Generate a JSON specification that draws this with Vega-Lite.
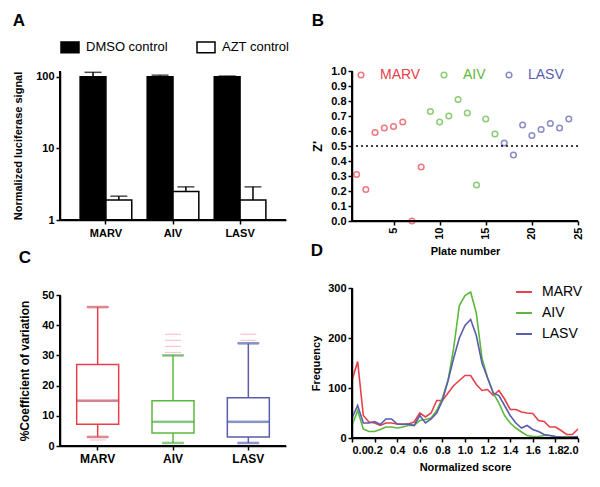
{
  "$schema": "https://vega.github.io/schema/vega-lite/v6.json",
  "background": "white",
  "padding": {"left": 12, "top": 12, "right": 10, "bottom": 5},
  "config": {
    "view": {"stroke": "transparent", "strokeWidth": 0},
    "font": "Liberation Sans",
    "axis": {
      "grid": false,
      "domain": true,
      "ticks": true,
      "zindex": 1,
      "domainColor": "#000000",
      "domainWidth": 1.5,
      "tickColor": "#000000",
      "tickWidth": 1.5,
      "tickSize": 4,
      "labelOverlap": false,
      "labelBound": false,
      "labelFont": "Liberation Sans",
      "labelFontWeight": "bold",
      "labelFontSize": 11,
      "labelColor": "black",
      "titleFont": "Liberation Sans",
      "titleFontWeight": "bold",
      "titleFontSize": 11,
      "titleColor": "black"
    },
    "legend": {"labelFont": "Liberation Sans", "labelFontSize": 13},
    "title": {"font": "Liberation Sans", "fontSize": 17, "fontWeight": "bold", "color": "black", "anchor": "start", "frame": "bounds"}
  },
  "hconcat": [
    {
      "spacing": 11,
      "resolve": {"scale": {"color": "independent", "fill": "independent", "stroke": "independent"}, "legend": {"color": "independent", "fill": "independent", "stroke": "independent"}},
      "vconcat": [
        {
          "title": {"text": "A", "offset": 7},
          "width": 226,
          "height": 149,
          "view": {"stroke": "transparent", "strokeWidth": 0},
          "layer": [
            {
              "data": {"values": [
                {"virus": "MARV", "treatment": "DMSO control", "value": 100, "upper": 115},
                {"virus": "MARV", "treatment": "AZT control", "value": 1.9, "upper": 2.15},
                {"virus": "AIV", "treatment": "DMSO control", "value": 100, "upper": 105},
                {"virus": "AIV", "treatment": "AZT control", "value": 2.5, "upper": 2.9},
                {"virus": "LASV", "treatment": "DMSO control", "value": 100, "upper": 102},
                {"virus": "LASV", "treatment": "AZT control", "value": 1.9, "upper": 2.9}
              ]},
              "encoding": {
                "x": {"field": "virus", "type": "nominal", "sort": ["MARV", "AIV", "LASV"], "scale": {"paddingInner": 0.23, "paddingOuter": 0.3}, "axis": {"title": null, "labelAngle": 0, "labelPadding": 3}},
                "xOffset": {"field": "treatment", "type": "nominal", "sort": ["DMSO control", "AZT control"], "scale": {"paddingInner": 0, "paddingOuter": 0}}
              },
              "layer": [
                {
                  "mark": {"type": "bar", "stroke": "black", "strokeWidth": 1.5},
                  "encoding": {
                    "y": {"field": "value", "type": "quantitative", "stack": null, "scale": {"type": "log", "domain": [1, 120], "nice": false}, "axis": {"values": [1, 10, 100], "format": "d", "title": "Normalized luciferase signal", "titlePadding": 12}},
                    "y2": {"datum": 1},
                    "fill": {"field": "treatment", "type": "nominal", "sort": ["DMSO control", "AZT control"], "scale": {"domain": ["DMSO control", "AZT control"], "range": ["black", "white"]},
                      "legend": {"orient": "top", "direction": "horizontal", "title": null, "offset": 15, "symbolType": "M-1,-0.6H1V0.6H-1Z", "symbolSize": 324, "symbolStrokeColor": "black", "symbolStrokeWidth": 1.5, "labelFontSize": 13, "labelColor": "black", "columnPadding": 26, "labelOffset": 6}}
                  }
                },
                {
                  "mark": {"type": "rule", "color": "black", "strokeWidth": 1.5},
                  "encoding": {"y": {"field": "value", "type": "quantitative", "axis": {"values": [1, 10, 100], "format": "d", "title": "Normalized luciferase signal", "titlePadding": 12}}, "y2": {"field": "upper"}}
                },
                {
                  "mark": {"type": "tick", "color": "black", "thickness": 1.5, "size": 17},
                  "encoding": {"y": {"field": "upper", "type": "quantitative", "axis": {"values": [1, 10, 100], "format": "d", "title": "Normalized luciferase signal", "titlePadding": 12}}}
                }
              ]
            },
            {
              "data": {"values": [{"ymin": 1, "ymax": 120}]},
              "mark": {"type": "rule", "color": "black", "strokeWidth": 2, "clip": false},
              "encoding": {"y": {"field": "ymin", "type": "quantitative", "axis": {"values": [1, 10, 100], "format": "d", "title": "Normalized luciferase signal", "titlePadding": 12}}}
            },
            {
              "data": {"values": [{"ymin": 1, "ymax": 120}]},
              "mark": {"type": "rule", "color": "black", "strokeWidth": 2, "clip": false},
              "encoding": {"x": {"value": 0}, "y": {"field": "ymin", "type": "quantitative", "axis": {"values": [1, 10, 100], "format": "d", "title": "Normalized luciferase signal", "titlePadding": 12}}, "y2": {"field": "ymax"}}
            }
          ]
        },
        {
          "title": {"text": "C", "offset": 22},
          "width": 226,
          "height": 151,
          "view": {"stroke": "transparent", "strokeWidth": 0},
          "layer": [
            {
              "data": {"values": [
                {"virus": "MARV", "min": 3, "q1": 7.2, "median": 15, "q3": 27, "max": 46},
                {"virus": "AIV", "min": 1, "q1": 4.3, "median": 8, "q3": 15, "max": 30},
                {"virus": "LASV", "min": 1, "q1": 3, "median": 8, "q3": 16, "max": 34}
              ]},
              "encoding": {
                "x": {"field": "virus", "type": "nominal", "sort": ["MARV", "AIV", "LASV"], "scale": {"paddingInner": 0, "paddingOuter": 0}, "axis": {"title": null, "labelAngle": 0, "labelFontSize": 12, "labelPadding": 3}},
                "stroke": {"field": "virus", "type": "nominal", "scale": {"domain": ["MARV", "AIV", "LASV"], "range": ["#e8404a", "#5cb83c", "#5a5cae"]}, "legend": null}
              },
              "layer": [
                {
                  "mark": {"type": "rule", "strokeWidth": 1.5},
                  "encoding": {"y": {"field": "min", "type": "quantitative", "scale": {"domain": [0, 50], "nice": false}, "axis": {"values": [0, 10, 20, 30, 40, 50], "labelOverlap": false, "title": "%Coefficient of variation", "titleFontSize": 12, "titlePadding": 10}}, "y2": {"field": "max"}}
                },
                {
                  "mark": {"type": "bar", "fill": "white", "strokeWidth": 1.5, "size": 42},
                  "encoding": {"y": {"field": "q1", "type": "quantitative", "axis": {"values": [0, 10, 20, 30, 40, 50], "labelOverlap": false, "title": "%Coefficient of variation", "titleFontSize": 12, "titlePadding": 10}}, "y2": {"field": "q3"}}
                },
                {
                  "mark": {"type": "tick", "thickness": 1.5, "size": 42},
                  "encoding": {"y": {"field": "median", "type": "quantitative", "axis": {"values": [0, 10, 20, 30, 40, 50], "labelOverlap": false, "title": "%Coefficient of variation", "titleFontSize": 12, "titlePadding": 10}}}
                },
                {
                  "mark": {"type": "tick", "thickness": 1.5, "size": 21},
                  "encoding": {"y": {"field": "min", "type": "quantitative", "axis": {"values": [0, 10, 20, 30, 40, 50], "labelOverlap": false, "title": "%Coefficient of variation", "titleFontSize": 12, "titlePadding": 10}}}
                },
                {
                  "mark": {"type": "tick", "thickness": 1.5, "size": 21},
                  "encoding": {"y": {"field": "max", "type": "quantitative", "axis": {"values": [0, 10, 20, 30, 40, 50], "labelOverlap": false, "title": "%Coefficient of variation", "titleFontSize": 12, "titlePadding": 10}}}
                }
              ]
            },
            {
              "data": {"values": [
                {"virus": "MARV", "outlier": 2},
                {"virus": "AIV", "outlier": 31},
                {"virus": "AIV", "outlier": 33},
                {"virus": "AIV", "outlier": 35},
                {"virus": "AIV", "outlier": 37},
                {"virus": "LASV", "outlier": 35},
                {"virus": "LASV", "outlier": 37}
              ]},
              "mark": {"type": "tick", "thickness": 1, "size": 16, "color": "#f2a0a5", "strokeDash": [2, 2]},
              "encoding": {"x": {"field": "virus", "type": "nominal", "sort": ["MARV", "AIV", "LASV"], "axis": {"title": null, "labelAngle": 0, "labelFontSize": 12, "labelPadding": 3}}, "y": {"field": "outlier", "type": "quantitative", "axis": {"values": [0, 10, 20, 30, 40, 50], "labelOverlap": false, "title": "%Coefficient of variation", "titleFontSize": 12, "titlePadding": 10}}}
            },
            {
              "data": {"values": [{"ymin": 0, "ymax": 50}]},
              "mark": {"type": "rule", "color": "black", "strokeWidth": 2, "clip": false},
              "encoding": {"y": {"field": "ymin", "type": "quantitative", "axis": {"values": [0, 10, 20, 30, 40, 50], "labelOverlap": false, "title": "%Coefficient of variation", "titleFontSize": 12, "titlePadding": 10}}}
            },
            {
              "data": {"values": [{"ymin": 0, "ymax": 50}]},
              "mark": {"type": "rule", "color": "black", "strokeWidth": 2, "clip": false},
              "encoding": {"x": {"value": 0}, "y": {"field": "ymin", "type": "quantitative", "axis": {"values": [0, 10, 20, 30, 40, 50], "labelOverlap": false, "title": "%Coefficient of variation", "titleFontSize": 12, "titlePadding": 10}}, "y2": {"field": "ymax"}}
            }
          ]
        }
      ]
    },
    {
      "spacing": -15,
      "resolve": {"scale": {"color": "independent"}, "legend": {"color": "independent"}},
      "vconcat": [
        {
          "title": {"text": "B", "offset": 35},
          "width": 226,
          "height": 150,
          "view": {"stroke": "transparent", "strokeWidth": 0},
          "layer": [
            {
              "data": {"values": [
                {"plate": 1, "z": 0.31, "virus": "MARV"},
                {"plate": 2, "z": 0.21, "virus": "MARV"},
                {"plate": 3, "z": 0.59, "virus": "MARV"},
                {"plate": 4, "z": 0.62, "virus": "MARV"},
                {"plate": 5, "z": 0.63, "virus": "MARV"},
                {"plate": 6, "z": 0.66, "virus": "MARV"},
                {"plate": 7, "z": 0.0, "virus": "MARV"},
                {"plate": 8, "z": 0.36, "virus": "MARV"},
                {"plate": 9, "z": 0.73, "virus": "AIV"},
                {"plate": 10, "z": 0.66, "virus": "AIV"},
                {"plate": 11, "z": 0.70, "virus": "AIV"},
                {"plate": 12, "z": 0.81, "virus": "AIV"},
                {"plate": 13, "z": 0.72, "virus": "AIV"},
                {"plate": 14, "z": 0.24, "virus": "AIV"},
                {"plate": 15, "z": 0.68, "virus": "AIV"},
                {"plate": 16, "z": 0.58, "virus": "AIV"},
                {"plate": 17, "z": 0.52, "virus": "LASV"},
                {"plate": 18, "z": 0.44, "virus": "LASV"},
                {"plate": 19, "z": 0.64, "virus": "LASV"},
                {"plate": 20, "z": 0.57, "virus": "LASV"},
                {"plate": 21, "z": 0.61, "virus": "LASV"},
                {"plate": 22, "z": 0.65, "virus": "LASV"},
                {"plate": 23, "z": 0.62, "virus": "LASV"},
                {"plate": 24, "z": 0.68, "virus": "LASV"}
              ]},
              "mark": {"type": "point", "filled": false, "size": 32, "strokeWidth": 1.5, "clip": false},
              "encoding": {
                "x": {"field": "plate", "type": "quantitative", "scale": {"domain": [0.5, 25], "nice": false, "zero": false}, "axis": {"values": [5, 10, 15, 20, 25], "labelAngle": -90, "labelOverlap": false, "title": "Plate number", "titlePadding": 6}},
                "y": {"field": "z", "type": "quantitative", "scale": {"domain": [0, 1], "nice": false}, "axis": {"values": [0, 0.1, 0.2, 0.3, 0.4, 0.5, 0.6, 0.7, 0.8, 0.9, 1.0], "format": ".1f", "labelOverlap": false, "title": "Z'", "titleFontSize": 13, "titlePadding": 6}},
                "color": {"field": "virus", "type": "nominal", "scale": {"domain": ["MARV", "AIV", "LASV"], "range": ["#e8404a", "#5cb83c", "#5a5cae"]},
                  "legend": {"orient": "none", "legendX": 2, "legendY": -3, "direction": "horizontal", "title": null, "padding": 0, "symbolSize": 32, "symbolStrokeWidth": 1.5, "symbolType": "circle", "labelFontSize": 14, "labelOffset": 12, "columnPadding": 16,
                    "labelColor": {"expr": "datum.value === 'MARV' ? '#e8404a' : datum.value === 'AIV' ? '#5cb83c' : '#5a5cae'"}}}
              }
            },
            {
              "data": {"values": [{"threshold": 0.5}]},
              "mark": {"type": "rule", "color": "black", "strokeWidth": 1.5, "strokeDash": [2, 3]},
              "encoding": {"y": {"field": "threshold", "type": "quantitative", "axis": {"values": [0, 0.1, 0.2, 0.3, 0.4, 0.5, 0.6, 0.7, 0.8, 0.9, 1.0], "format": ".1f", "labelOverlap": false, "title": "Z'", "titleFontSize": 13, "titlePadding": 6}}}
            },
            {
              "data": {"values": [{"xmin": 0.5, "ymin": 0}]},
              "mark": {"type": "rule", "color": "black", "strokeWidth": 2, "clip": false},
              "encoding": {"y": {"field": "ymin", "type": "quantitative", "axis": {"values": [0, 0.1, 0.2, 0.3, 0.4, 0.5, 0.6, 0.7, 0.8, 0.9, 1.0], "format": ".1f", "labelOverlap": false, "title": "Z'", "titleFontSize": 13, "titlePadding": 6}}}
            },
            {
              "data": {"values": [{"xmin": 0.5, "ymin": 0}]},
              "mark": {"type": "rule", "color": "black", "strokeWidth": 2, "clip": false},
              "encoding": {"x": {"field": "xmin", "type": "quantitative", "axis": {"values": [5, 10, 15, 20, 25], "labelAngle": -90, "labelOverlap": false, "title": "Plate number", "titlePadding": 6}}}
            }
          ]
        },
        {
          "title": {"text": "D", "offset": 22},
          "width": 226,
          "height": 150,
          "view": {"stroke": "transparent", "strokeWidth": 0},
          "layer": [
            {
              "data": {"values": [
                {"virus":"MARV","score":0.0,"freq":115},{"virus":"MARV","score":0.05,"freq":153},{"virus":"MARV","score":0.1,"freq":45},{"virus":"MARV","score":0.15,"freq":32},{"virus":"MARV","score":0.2,"freq":30},{"virus":"MARV","score":0.25,"freq":25},{"virus":"MARV","score":0.3,"freq":30},{"virus":"MARV","score":0.35,"freq":30},{"virus":"MARV","score":0.4,"freq":28},{"virus":"MARV","score":0.45,"freq":28},{"virus":"MARV","score":0.5,"freq":28},{"virus":"MARV","score":0.55,"freq":32},{"virus":"MARV","score":0.6,"freq":50},{"virus":"MARV","score":0.65,"freq":42},{"virus":"MARV","score":0.7,"freq":50},{"virus":"MARV","score":0.75,"freq":75},{"virus":"MARV","score":0.8,"freq":75},{"virus":"MARV","score":0.85,"freq":90},{"virus":"MARV","score":0.9,"freq":105},{"virus":"MARV","score":0.95,"freq":115},{"virus":"MARV","score":1.0,"freq":125},{"virus":"MARV","score":1.05,"freq":125},{"virus":"MARV","score":1.1,"freq":107},{"virus":"MARV","score":1.15,"freq":95},{"virus":"MARV","score":1.2,"freq":97},{"virus":"MARV","score":1.25,"freq":85},{"virus":"MARV","score":1.3,"freq":95},{"virus":"MARV","score":1.35,"freq":78},{"virus":"MARV","score":1.4,"freq":57},{"virus":"MARV","score":1.45,"freq":57},{"virus":"MARV","score":1.5,"freq":52},{"virus":"MARV","score":1.55,"freq":50},{"virus":"MARV","score":1.6,"freq":49},{"virus":"MARV","score":1.65,"freq":35},{"virus":"MARV","score":1.7,"freq":33},{"virus":"MARV","score":1.75,"freq":22},{"virus":"MARV","score":1.8,"freq":22},{"virus":"MARV","score":1.85,"freq":15},{"virus":"MARV","score":1.9,"freq":7},{"virus":"MARV","score":1.95,"freq":7},{"virus":"MARV","score":2.0,"freq":18},
                {"virus":"AIV","score":0.0,"freq":25},{"virus":"AIV","score":0.05,"freq":55},{"virus":"AIV","score":0.1,"freq":18},{"virus":"AIV","score":0.15,"freq":13},{"virus":"AIV","score":0.2,"freq":13},{"virus":"AIV","score":0.25,"freq":17},{"virus":"AIV","score":0.3,"freq":22},{"virus":"AIV","score":0.35,"freq":22},{"virus":"AIV","score":0.4,"freq":20},{"virus":"AIV","score":0.45,"freq":22},{"virus":"AIV","score":0.5,"freq":25},{"virus":"AIV","score":0.55,"freq":25},{"virus":"AIV","score":0.6,"freq":35},{"virus":"AIV","score":0.65,"freq":37},{"virus":"AIV","score":0.7,"freq":40},{"virus":"AIV","score":0.75,"freq":55},{"virus":"AIV","score":0.8,"freq":80},{"virus":"AIV","score":0.85,"freq":115},{"virus":"AIV","score":0.9,"freq":180},{"virus":"AIV","score":0.95,"freq":265},{"virus":"AIV","score":1.0,"freq":285},{"virus":"AIV","score":1.05,"freq":292},{"virus":"AIV","score":1.1,"freq":250},{"virus":"AIV","score":1.15,"freq":160},{"virus":"AIV","score":1.2,"freq":120},{"virus":"AIV","score":1.25,"freq":90},{"virus":"AIV","score":1.3,"freq":70},{"virus":"AIV","score":1.35,"freq":45},{"virus":"AIV","score":1.4,"freq":30},{"virus":"AIV","score":1.45,"freq":20},{"virus":"AIV","score":1.5,"freq":12},{"virus":"AIV","score":1.55,"freq":5},{"virus":"AIV","score":1.6,"freq":3},{"virus":"AIV","score":1.65,"freq":3},{"virus":"AIV","score":1.7,"freq":5},{"virus":"AIV","score":1.75,"freq":5},{"virus":"AIV","score":1.8,"freq":3},{"virus":"AIV","score":1.85,"freq":2},{"virus":"AIV","score":1.9,"freq":3},{"virus":"AIV","score":1.95,"freq":2},{"virus":"AIV","score":2.0,"freq":2},
                {"virus":"LASV","score":0.0,"freq":40},{"virus":"LASV","score":0.05,"freq":65},{"virus":"LASV","score":0.1,"freq":30},{"virus":"LASV","score":0.15,"freq":30},{"virus":"LASV","score":0.2,"freq":33},{"virus":"LASV","score":0.25,"freq":27},{"virus":"LASV","score":0.3,"freq":38},{"virus":"LASV","score":0.35,"freq":38},{"virus":"LASV","score":0.4,"freq":28},{"virus":"LASV","score":0.45,"freq":27},{"virus":"LASV","score":0.5,"freq":28},{"virus":"LASV","score":0.55,"freq":25},{"virus":"LASV","score":0.6,"freq":45},{"virus":"LASV","score":0.65,"freq":30},{"virus":"LASV","score":0.7,"freq":38},{"virus":"LASV","score":0.75,"freq":50},{"virus":"LASV","score":0.8,"freq":75},{"virus":"LASV","score":0.85,"freq":115},{"virus":"LASV","score":0.9,"freq":160},{"virus":"LASV","score":0.95,"freq":200},{"virus":"LASV","score":1.0,"freq":225},{"virus":"LASV","score":1.05,"freq":237},{"virus":"LASV","score":1.1,"freq":205},{"virus":"LASV","score":1.15,"freq":150},{"virus":"LASV","score":1.2,"freq":120},{"virus":"LASV","score":1.25,"freq":90},{"virus":"LASV","score":1.3,"freq":85},{"virus":"LASV","score":1.35,"freq":65},{"virus":"LASV","score":1.4,"freq":45},{"virus":"LASV","score":1.45,"freq":30},{"virus":"LASV","score":1.5,"freq":20},{"virus":"LASV","score":1.55,"freq":25},{"virus":"LASV","score":1.6,"freq":17},{"virus":"LASV","score":1.65,"freq":13},{"virus":"LASV","score":1.7,"freq":7},{"virus":"LASV","score":1.75,"freq":5},{"virus":"LASV","score":1.8,"freq":3},{"virus":"LASV","score":1.85,"freq":2},{"virus":"LASV","score":1.9,"freq":1},{"virus":"LASV","score":1.95,"freq":2},{"virus":"LASV","score":2.0,"freq":3}
              ]},
              "mark": {"type": "line", "strokeWidth": 1.6},
              "encoding": {
                "x": {"field": "score", "type": "quantitative", "scale": {"domain": [0, 2], "nice": false}, "axis": {"values": [0, 0.2, 0.4, 0.6, 0.8, 1.0, 1.2, 1.4, 1.6, 1.8, 2.0], "format": ".1f", "labelFontSize": 11, "labelOverlap": false, "title": "Normalized score", "titlePadding": 6}},
                "y": {"field": "freq", "type": "quantitative", "scale": {"domain": [0, 300], "nice": false}, "axis": {"values": [0, 100, 200, 300], "labelOverlap": false, "title": "Frequency", "titlePadding": 6}},
                "color": {"field": "virus", "type": "nominal", "sort": ["MARV", "AIV", "LASV"], "scale": {"domain": ["MARV", "AIV", "LASV"], "range": ["#e8404a", "#5cb83c", "#5a5cae"]},
                  "legend": {"orient": "top-right", "title": null, "offset": -5, "symbolType": "stroke", "symbolStrokeWidth": 2, "symbolSize": 250, "labelFontSize": 14, "labelColor": "black", "rowPadding": 5, "labelOffset": 9}}
              }
            },
            {
              "data": {"values": [{"xmin": 0, "ymin": 0}]},
              "mark": {"type": "rule", "color": "black", "strokeWidth": 2, "clip": false},
              "encoding": {"y": {"field": "ymin", "type": "quantitative", "axis": {"values": [0, 100, 200, 300], "labelOverlap": false, "title": "Frequency", "titlePadding": 6}}}
            },
            {
              "data": {"values": [{"xmin": 0, "ymin": 0}]},
              "mark": {"type": "rule", "color": "black", "strokeWidth": 2, "clip": false},
              "encoding": {"x": {"field": "xmin", "type": "quantitative", "axis": {"values": [0, 0.2, 0.4, 0.6, 0.8, 1.0, 1.2, 1.4, 1.6, 1.8, 2.0], "format": ".1f", "labelFontSize": 11, "labelOverlap": false, "title": "Normalized score", "titlePadding": 6}}}
            }
          ]
        }
      ]
    }
  ]
}
